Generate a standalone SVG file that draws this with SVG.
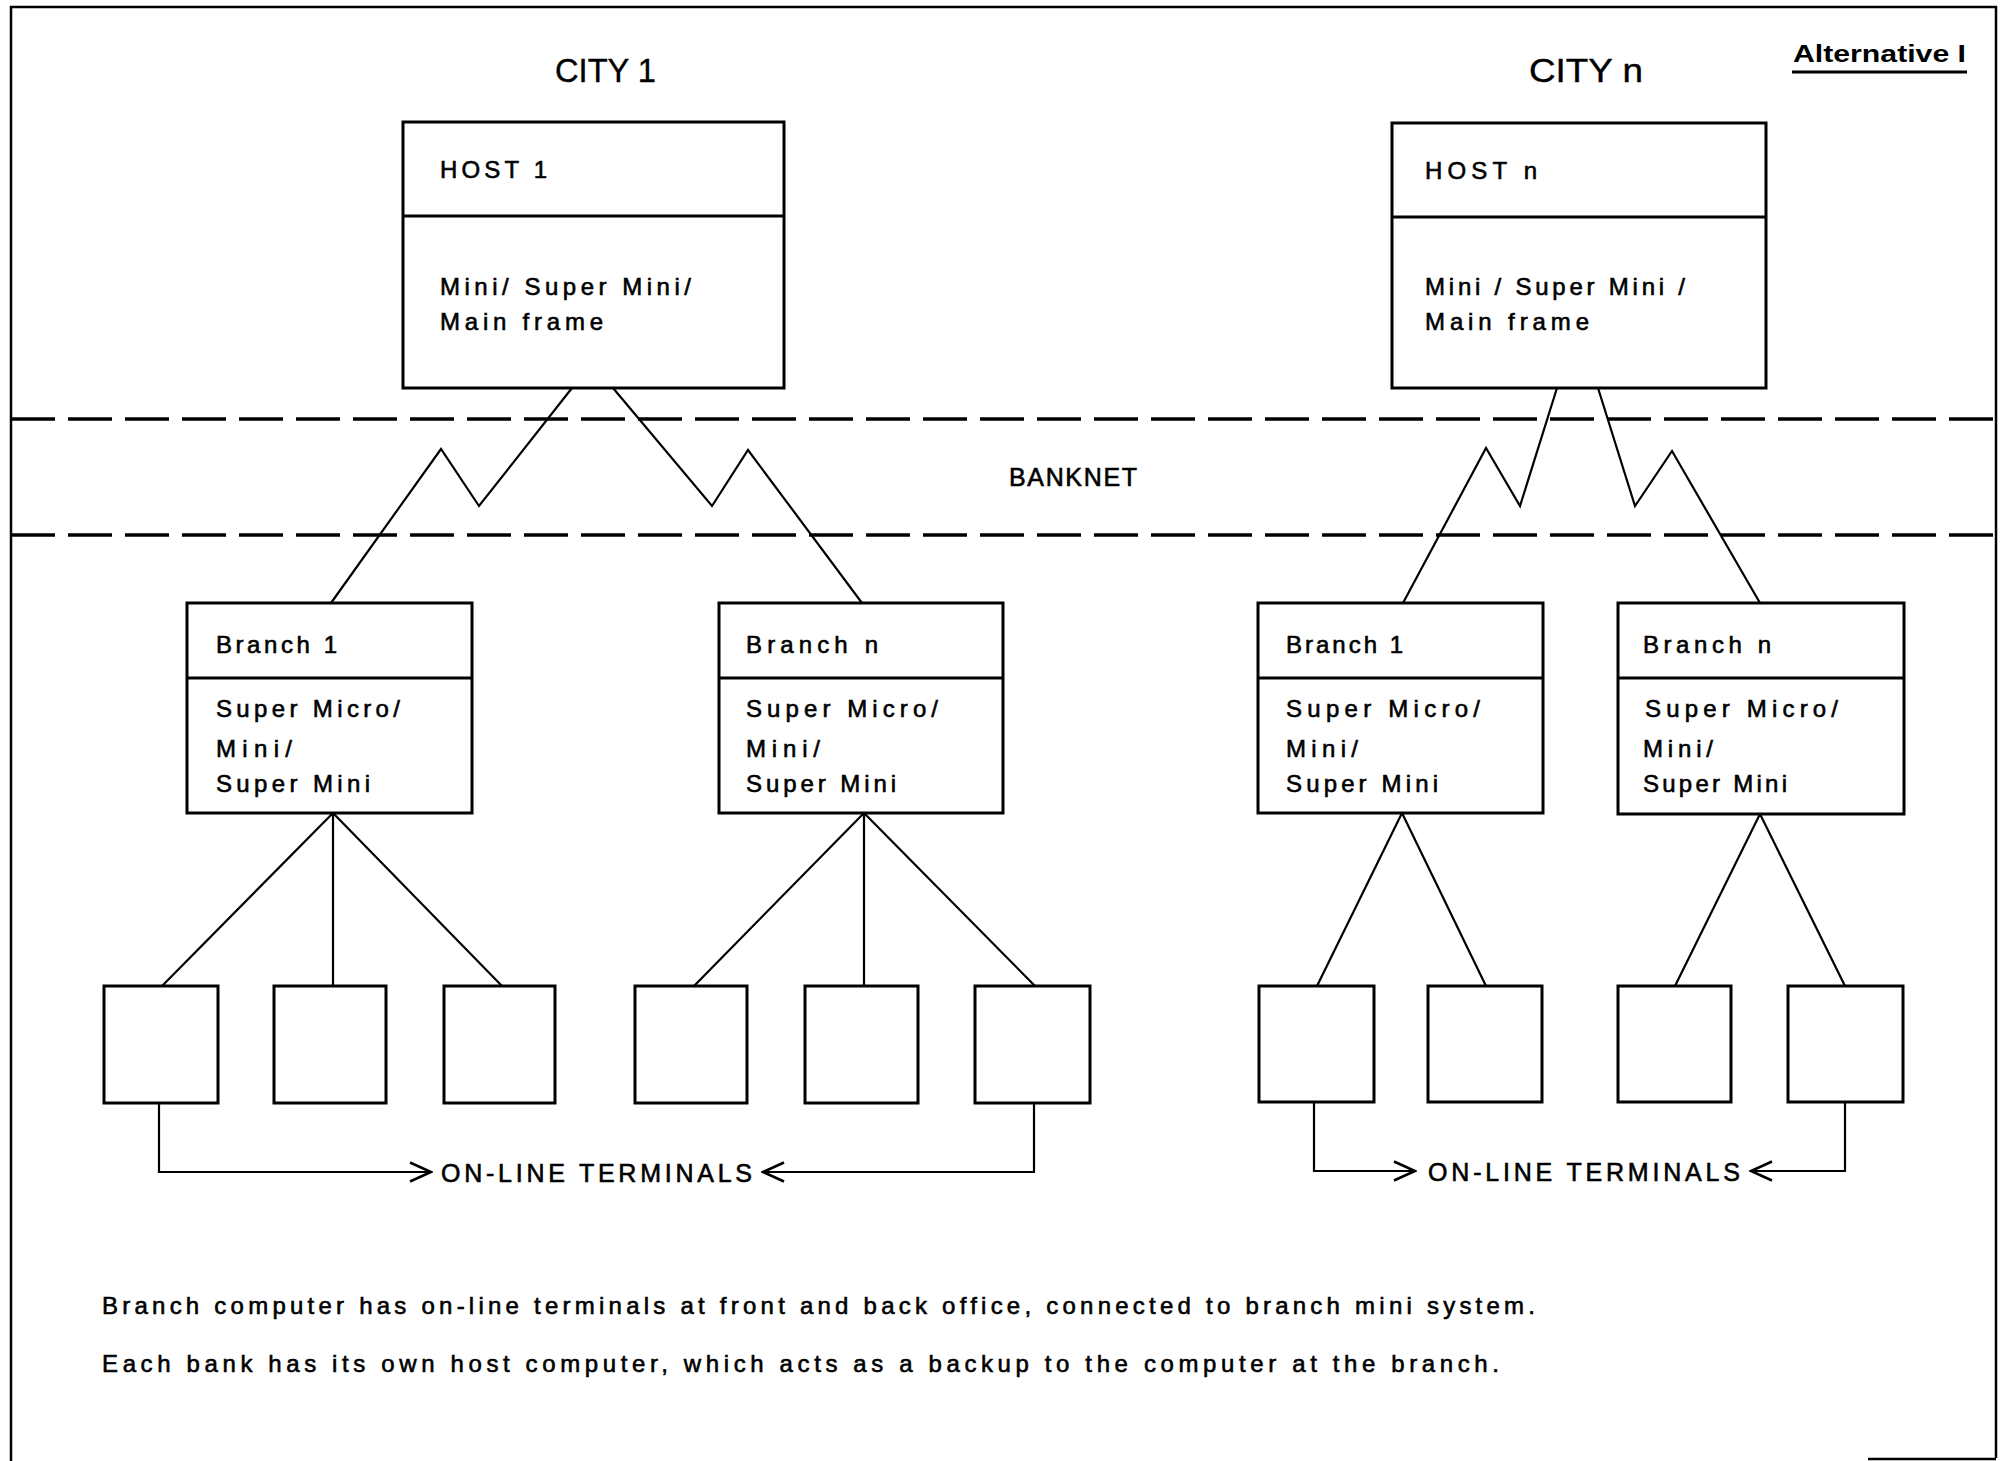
<svg xmlns="http://www.w3.org/2000/svg" width="2006" height="1461" viewBox="0 0 2006 1461">
  <style>
    .box { fill: #fff; stroke: #000; stroke-width: 3; }
    .div { stroke: #000; stroke-width: 3; }
    .link { fill: none; stroke: #000; stroke-width: 2.2; stroke-linejoin: miter; }
    .band { stroke: #000; stroke-width: 3.5; stroke-dasharray: 44 13; }
    .frame { fill: none; stroke: #000; stroke-width: 2.5; }
    text { font-family: "Liberation Sans", Arial, sans-serif; fill: #000; stroke: #000; stroke-width: 0.6; }
    .t24 { font-size: 24px; }
    .t25 { font-size: 25px; }
    .title { font-size: 34px; stroke-width: 0.4; }
    .alt { font-size: 23px; font-weight: bold; stroke-width: 0; }
  </style>
  <defs>
    <marker id="chev" viewBox="0 0 24 22" refX="22" refY="11" markerWidth="24" markerHeight="22" markerUnits="userSpaceOnUse" orient="auto">
      <path d="M1,1.5 L22,11 L1,20.5" fill="none" stroke="#000" stroke-width="2.6"/>
    </marker>
  </defs>

  <rect width="2006" height="1461" fill="#fff"/>

  <!-- sheet frame -->
  <g id="frame">
    <path class="frame" d="M11,1461 V7 H1996 V1458 M1868,1459 H1996"/>
  </g>

  <!-- BANKNET band -->
  <g id="banknet">
    <line class="band" x1="11" y1="419" x2="1996" y2="419"/>
    <line class="band" x1="11" y1="535" x2="1996" y2="535"/>
    <text class="t25" x="1009" y="486" textLength="128" lengthAdjust="spacing">BANKNET</text>
  </g>

  <!-- headings -->
  <g id="headings">
    <text class="title" x="555" y="82" textLength="101" lengthAdjust="spacingAndGlyphs">CITY 1</text>
    <text class="title" x="1529" y="82" textLength="114" lengthAdjust="spacingAndGlyphs">CITY n</text>
    <text class="alt" x="1793" y="62" textLength="173" lengthAdjust="spacingAndGlyphs">Alternative I</text>
    <line x1="1792" y1="72" x2="1967" y2="72" stroke="#000" stroke-width="3"/>
  </g>

  <!-- connectors -->
  <g id="connectors">
    <!-- host to branch lines through BANKNET -->
    <polyline class="link" points="572,388 479,506 441,449 331,603"/>
    <polyline class="link" points="613,388 712,506 748,450 862,603"/>
    <polyline class="link" points="1557,388 1520,506 1486,448 1403,603"/>
    <polyline class="link" points="1598,388 1635,506 1672,451 1760,603"/>
    <!-- branch to terminals -->
    <path class="link" d="M333,813 L162,986 M333,813 V986 M333,813 L502,986"/>
    <path class="link" d="M864,813 L694,986 M864,813 V986 M864,813 L1035,986"/>
    <path class="link" d="M1402,813 L1317,986 M1402,813 L1486,986"/>
    <path class="link" d="M1760,814 L1675,986 M1760,814 L1845,986"/>
    <!-- on-line terminal brackets -->
    <path class="link" d="M159,1103 V1172 H431" marker-end="url(#chev)"/>
    <path class="link" d="M1034,1103 V1172 H763" marker-end="url(#chev)"/>
    <path class="link" d="M1314,1102 V1171 H1415" marker-end="url(#chev)"/>
    <path class="link" d="M1845,1102 V1171 H1751" marker-end="url(#chev)"/>
  </g>

  <!-- hosts -->
  <g id="host-1">
    <rect class="box" x="403" y="122" width="381" height="266"/>
    <line class="div" x1="403" y1="216" x2="784" y2="216"/>
    <text class="t24" x="440" y="178" textLength="107" lengthAdjust="spacing">HOST 1</text>
    <text class="t24" x="440" y="295" textLength="251" lengthAdjust="spacing">Mini/ Super Mini/</text>
    <text class="t24" x="440" y="330" textLength="163" lengthAdjust="spacing">Main frame</text>
  </g>
  <g id="host-n">
    <rect class="box" x="1392" y="123" width="374" height="265"/>
    <line class="div" x1="1392" y1="217" x2="1766" y2="217"/>
    <text class="t24" x="1425" y="179" textLength="112" lengthAdjust="spacing">HOST n</text>
    <text class="t24" x="1425" y="295" textLength="260" lengthAdjust="spacing">Mini / Super Mini /</text>
    <text class="t24" x="1425" y="330" textLength="164" lengthAdjust="spacing">Main frame</text>
  </g>

  <!-- branches -->
  <g id="branch-1-city-1">
    <rect class="box" x="187" y="603" width="285" height="210"/>
    <line class="div" x1="187" y1="678" x2="472" y2="678"/>
    <text class="t24" x="216" y="653" textLength="121" lengthAdjust="spacing">Branch 1</text>
    <text class="t24" x="216" y="717" textLength="184" lengthAdjust="spacing">Super Micro/</text>
    <text class="t24" x="216" y="757" textLength="76" lengthAdjust="spacing">Mini/</text>
    <text class="t24" x="216" y="792" textLength="154" lengthAdjust="spacing">Super Mini</text>
  </g>
  <g id="branch-n-city-1">
    <rect class="box" x="719" y="603" width="284" height="210"/>
    <line class="div" x1="719" y1="678" x2="1003" y2="678"/>
    <text class="t24" x="746" y="653" textLength="132" lengthAdjust="spacing">Branch n</text>
    <text class="t24" x="746" y="717" textLength="192" lengthAdjust="spacing">Super Micro/</text>
    <text class="t24" x="746" y="757" textLength="74" lengthAdjust="spacing">Mini/</text>
    <text class="t24" x="746" y="792" textLength="150" lengthAdjust="spacing">Super Mini</text>
  </g>
  <g id="branch-1-city-n">
    <rect class="box" x="1258" y="603" width="285" height="210"/>
    <line class="div" x1="1258" y1="678" x2="1543" y2="678"/>
    <text class="t24" x="1286" y="653" textLength="117" lengthAdjust="spacing">Branch 1</text>
    <text class="t24" x="1286" y="717" textLength="194" lengthAdjust="spacing">Super Micro/</text>
    <text class="t24" x="1286" y="757" textLength="72" lengthAdjust="spacing">Mini/</text>
    <text class="t24" x="1286" y="792" textLength="152" lengthAdjust="spacing">Super Mini</text>
  </g>
  <g id="branch-n-city-n">
    <rect class="box" x="1618" y="603" width="286" height="211"/>
    <line class="div" x1="1618" y1="678" x2="1904" y2="678"/>
    <text class="t24" x="1643" y="653" textLength="128" lengthAdjust="spacing">Branch n</text>
    <text class="t24" x="1645" y="717" textLength="193" lengthAdjust="spacing">Super Micro/</text>
    <text class="t24" x="1643" y="757" textLength="70" lengthAdjust="spacing">Mini/</text>
    <text class="t24" x="1643" y="792" textLength="144" lengthAdjust="spacing">Super Mini</text>
  </g>

  <!-- terminals -->
  <g id="terminals-city-1">
    <rect id="term-1-1" class="box" x="104" y="986" width="114" height="117"/>
    <rect id="term-1-2" class="box" x="274" y="986" width="112" height="117"/>
    <rect id="term-1-3" class="box" x="444" y="986" width="111" height="117"/>
    <rect id="term-1-4" class="box" x="635" y="986" width="112" height="117"/>
    <rect id="term-1-5" class="box" x="805" y="986" width="113" height="117"/>
    <rect id="term-1-6" class="box" x="975" y="986" width="115" height="117"/>
  </g>
  <g id="terminals-city-n">
    <rect id="term-n-1" class="box" x="1259" y="986" width="115" height="116"/>
    <rect id="term-n-2" class="box" x="1428" y="986" width="114" height="116"/>
    <rect id="term-n-3" class="box" x="1618" y="986" width="113" height="116"/>
    <rect id="term-n-4" class="box" x="1788" y="986" width="115" height="116"/>
  </g>

  <!-- terminal labels -->
  <g id="labels">
    <text class="t25" x="441" y="1182" textLength="311" lengthAdjust="spacing">ON-LINE TERMINALS</text>
    <text class="t25" x="1428" y="1181" textLength="312" lengthAdjust="spacing">ON-LINE TERMINALS</text>
  </g>

  <!-- notes -->
  <g id="notes">
    <text class="t24" x="102" y="1314" textLength="1433" lengthAdjust="spacing">Branch computer has on-line terminals at front and back office, connected to branch mini system.</text>
    <text class="t24" x="102" y="1372" textLength="1397" lengthAdjust="spacing">Each bank has its own host computer, which acts as a backup to the computer at the branch.</text>
  </g>
</svg>
